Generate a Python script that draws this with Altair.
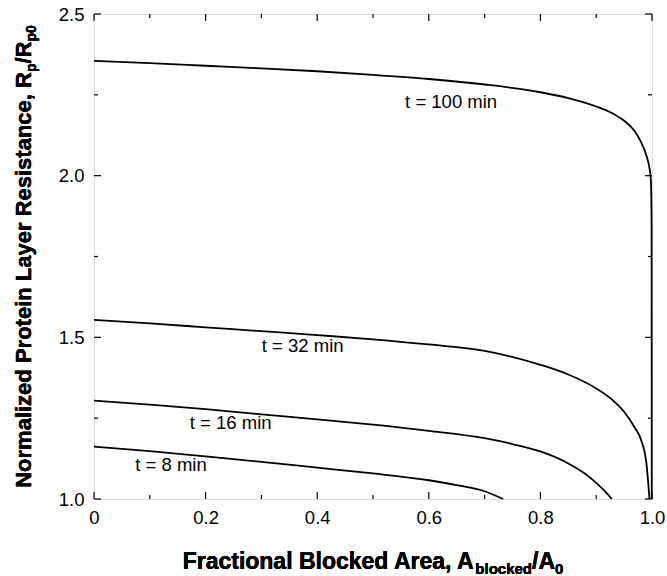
import altair as alt
import pandas as pd

# ---- data ----
x8 = [0.0, 0.1, 0.2, 0.3, 0.4, 0.5, 0.6, 0.65, 0.7, 0.733]
y8 = [1.162, 1.148, 1.132, 1.115, 1.097, 1.079, 1.058, 1.043, 1.024, 1.0]

x16 = [0.0, 0.1, 0.2, 0.3, 0.4, 0.5, 0.6, 0.7, 0.75, 0.8, 0.85, 0.88, 0.9, 0.915, 0.928]
y16 = [1.304, 1.292, 1.278, 1.262, 1.246, 1.230, 1.211, 1.188, 1.170, 1.147, 1.110, 1.078, 1.050, 1.025, 1.0]

x32 = [0.0, 0.1, 0.2, 0.3, 0.4, 0.5, 0.6, 0.7, 0.8, 0.85, 0.9, 0.93, 0.95, 0.97, 0.98, 0.99, 0.9955]
y32 = [1.554, 1.543, 1.531, 1.519, 1.507, 1.494, 1.478, 1.458, 1.415, 1.385, 1.342, 1.305, 1.270, 1.218, 1.185, 1.110, 1.0]

x100 = [0.0, 0.1, 0.2, 0.3, 0.4, 0.5, 0.6, 0.7, 0.8, 0.85, 0.9, 0.93, 0.95, 0.97, 0.98, 0.99, 0.995, 0.998, 0.9993, 0.9996]
y100 = [2.355, 2.348, 2.340, 2.332, 2.323, 2.312, 2.299, 2.282, 2.258, 2.240, 2.214, 2.192, 2.170, 2.135, 2.105, 2.062, 2.028, 1.985, 1.85, 1.0]

series_names = ["t = 8 min", "t = 16 min", "t = 32 min", "t = 100 min"]
label_x = [0.138, 0.245, 0.374, 0.640]
label_y = [1.105, 1.236, 1.473, 2.228]

x_major = [0.0, 0.2, 0.4, 0.6, 0.8, 1.0]
x_minor = [0.1, 0.3, 0.5, 0.7, 0.9]
y_major = [1.0, 1.5, 2.0, 2.5]
y_minor = [1.25, 1.75, 2.25]

x_title_parts = ["Fractional Blocked Area, A", "blocked", "/A", "0"]
y_title_parts = ["Normalized Protein Layer Resistance, R", "p", "/R", "p0"]

# ---- build tables ----
rows = []
for name, xs, ys in zip(series_names, [x8, x16, x32, x100], [y8, y16, y32, y100]):
    for a, b in zip(xs, ys):
        rows.append({"series": name, "x": a, "y": b})
curves = pd.DataFrame(rows)
labels = pd.DataFrame({"label": series_names, "x": label_x, "y": label_y})

W, H = 558, 485
FONT = "Liberation Sans"

xs = alt.Scale(domain=[0, 1], nice=False, zero=False)
ys = alt.Scale(domain=[1.0, 2.5], nice=False, zero=False)

lines = alt.Chart(curves).mark_line(color="black", strokeWidth=1.8, interpolate="monotone").encode(
    x=alt.X("x:Q", scale=xs, axis=alt.Axis(
        values=x_major, title=None, ticks=False, domain=False, grid=False,
        labelExpr="datum.value == 0 ? '0' : format(datum.value, '.1f')",
        labelFontSize=18.5, labelColor="black", labelPadding=9, labelFlush=False,
        labelOverlap=False, labelFont=FONT)),
    y=alt.Y("y:Q", scale=ys, axis=alt.Axis(
        values=y_major, title=None, ticks=False, domain=False, grid=False, format=".1f",
        labelFontSize=18.5, labelColor="black", labelPadding=10, labelFlush=False,
        labelOverlap=False, labelFont=FONT)),
    detail="series:N",
)

text_labels = alt.Chart(labels).mark_text(fontSize=18.5, font=FONT, color="black", baseline="middle").encode(
    x=alt.X("x:Q", scale=xs), y=alt.Y("y:Q", scale=ys), text="label:N")

def xticks(vals, length):
    df = pd.DataFrame({"v": vals})
    bot = alt.Chart(df).mark_rule(color="black", strokeWidth=1.2).encode(
        x=alt.X("v:Q", scale=xs), y=alt.value(H), y2=alt.value(H - length))
    top = alt.Chart(df).mark_rule(color="black", strokeWidth=1.2).encode(
        x=alt.X("v:Q", scale=xs), y=alt.value(0), y2=alt.value(length))
    return [bot, top]

def yticks(vals, length):
    df = pd.DataFrame({"v": vals})
    left = alt.Chart(df).mark_rule(color="black", strokeWidth=1.2).encode(
        y=alt.Y("v:Q", scale=ys), x=alt.value(0), x2=alt.value(length))
    right = alt.Chart(df).mark_rule(color="black", strokeWidth=1.2).encode(
        y=alt.Y("v:Q", scale=ys), x=alt.value(W), x2=alt.value(W - length))
    return [left, right]

tick_layers = xticks(x_major, 7) + xticks(x_minor, 4) + yticks(y_major, 7) + yticks(y_minor, 4)

# ---- axis titles with subscripts (Arial-Bold advance widths per em) ----
ADV = {" ": .278, ",": .278, "/": .278, "0": .556, "A": .722, "B": .722, "F": .611, "L": .611,
       "N": .722, "P": .667, "R": .722, "a": .556, "b": .611, "c": .556, "d": .611, "e": .556,
       "i": .278, "k": .556, "l": .278, "m": .889, "n": .611, "o": .611, "p": .611, "r": .389,
       "s": .556, "t": .333, "y": .556, "z": .5}

def tw(s, size):
    return sum(ADV.get(ch, .556) for ch in s) * size

def title_marks(parts, big, small, horizontal):
    sizes = [big, small, big, small]
    total = sum(tw(p, s) for p, s in zip(parts, sizes))
    marks = []
    if horizontal:
        pos = W / 2 - total / 2
        base = H + 70
        for p, s in zip(parts, sizes):
            off = 0 if s == big else 5
            marks.append(alt.Chart(labels).mark_text(
                text=p, fontSize=s, fontWeight="bold", font=FONT, color="black",
                align="left", baseline="alphabetic").encode(
                x=alt.value(pos), y=alt.value(base + off)))
            pos += tw(p, s)
    else:
        pos = H / 2 + total / 2
        base = -63
        for p, s in zip(parts, sizes):
            off = 0 if s == big else 5
            marks.append(alt.Chart(labels).mark_text(
                text=p, fontSize=s, fontWeight="bold", font=FONT, color="black",
                align="left", baseline="alphabetic", angle=270).encode(
                x=alt.value(base + off), y=alt.value(pos)))
            pos -= tw(p, s)
    return marks

title_layers = title_marks(x_title_parts, 23, 15, True) + title_marks(y_title_parts, 22, 14, False)

chart = alt.layer(lines, text_labels, *tick_layers, *title_layers).properties(
    width=W, height=H,
    autosize=alt.AutoSizeParams(type="none"),
    padding={"left": 94, "top": 14, "right": 15, "bottom": 77},
).configure_view(stroke="black", strokeWidth=1.5).configure(font=FONT, background="white")

chart.save("out.html", embed_options={"renderer": "svg", "actions": False})
